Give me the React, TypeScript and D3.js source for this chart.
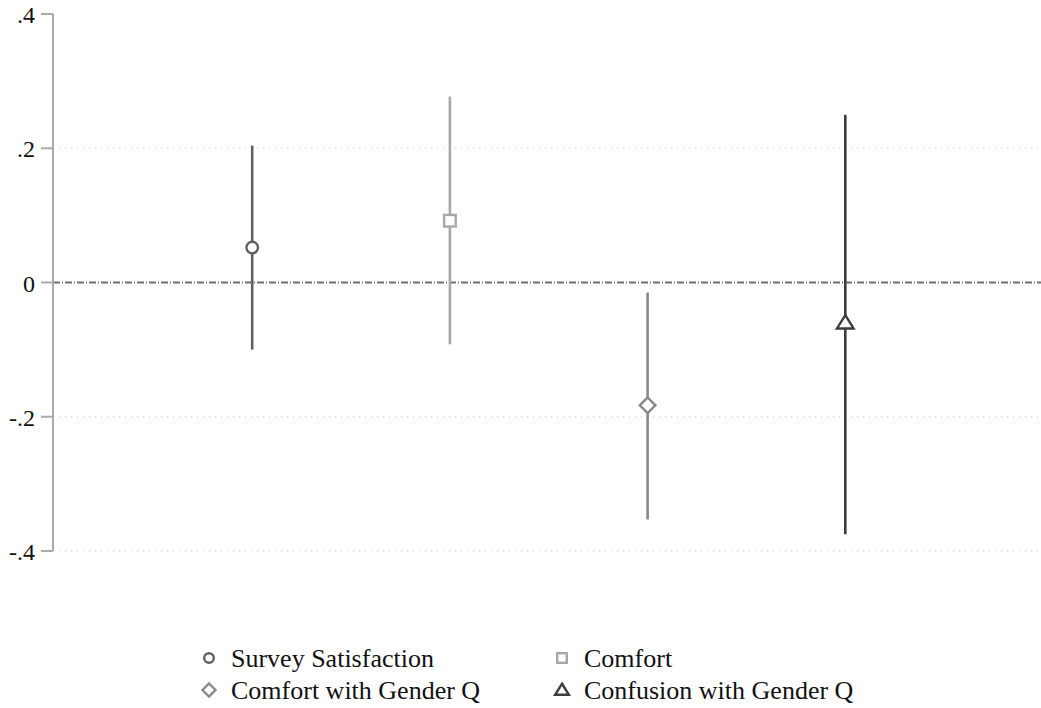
import React from "react";
import * as d3 from "d3";

const categories = ["Survey Satisfaction", "Comfort", "Comfort with Gender Q", "Confusion with Gender Q"];
const estimates = [0.052, 0.092, -0.183, -0.06];
const lower = [-0.1, -0.092, -0.353, -0.375];
const upper = [0.204, 0.277, -0.015, 0.25];
const yTicks = [-0.4, -0.2, 0, 0.2, 0.4];
const yTickLabels = ["-.4", "-.2", "0", ".2", ".4"];

const colors = ["#606060", "#a8a8a8", "#888888", "#3c3c3c"];
const shapes = ["circle", "square", "diamond", "triangle"];

const W = 1041, H = 708;
const left = 53, top = 14, bottom = 552;
const gridRight = 1040;

function Marker({ shape, x, y, color, s }: { shape: string; x: number; y: number; color: string; s: number }) {
  const sw = 2.4;
  if (shape === "circle") return <circle cx={x} cy={y} r={s} fill="white" stroke={color} strokeWidth={sw} />;
  if (shape === "square") return <rect x={x - s} y={y - s} width={2 * s} height={2 * s} fill="white" stroke={color} strokeWidth={sw} />;
  if (shape === "diamond") {
    const d = s * 1.35;
    return <path d={`M${x},${y - d}L${x + d},${y}L${x},${y + d}L${x - d},${y}Z`} fill="white" stroke={color} strokeWidth={sw} />;
  }
  const t = s * 1.3;
  return <path d={`M${x},${y - t}L${x + t * 1.1},${y + t * 0.75}L${x - t * 1.1},${y + t * 0.75}Z`} fill="white" stroke={color} strokeWidth={sw} strokeLinejoin="miter" />;
}

const fontStyle = { fontFamily: "Liberation Serif" };

export default function App() {
  const y = d3.scaleLinear().domain([-0.4, 0.4]).range([bottom - 1, top]);
  const x = d3.scaleLinear().domain([0, 5]).range([54.5, 1043]);
  const legendItems = [
    { i: 0, lx: 209, ly: 658 },
    { i: 1, lx: 562, ly: 658 },
    { i: 2, lx: 209, ly: 690 },
    { i: 3, lx: 562, ly: 690 },
  ];
  return (
    <svg width={W} height={H} style={{ position: "absolute", left: 0, top: 0, background: "white" }}>
      {yTicks.map((t, i) =>
        t !== 0 && t !== 0.4 ? (
          <line key={"g" + i} x1={left + 6} x2={gridRight} y1={y(t)} y2={y(t)} stroke="#c8c8c8" strokeWidth={1} strokeDasharray="1,5" />
        ) : null
      )}
      <line x1={left} x2={gridRight + 1} y1={y(0)} y2={y(0)} stroke="#707070" strokeWidth={1.9} strokeDasharray="7,2,1,2" />
      <line x1={left} x2={left} y1={y(0.4)} y2={y(-0.4)} stroke="#aaaaaa" strokeWidth={2} />
      {yTicks.map((t, i) => (
        <g key={"t" + i}>
          <line x1={left - 12} x2={left} y1={y(t)} y2={y(t)} stroke="#aaaaaa" strokeWidth={2} />
          <text x={35} y={y(t) + 9} textAnchor="end" fontSize={24} fill="#111" style={fontStyle}>
            {yTickLabels[i]}
          </text>
        </g>
      ))}
      {categories.map((c, i) => (
        <g key={c}>
          <line x1={x(i + 1)} x2={x(i + 1)} y1={y(upper[i])} y2={y(lower[i])} stroke={colors[i]} strokeWidth={2.6} />
          <Marker shape={shapes[i]} x={x(i + 1)} y={y(estimates[i])} color={colors[i]} s={5.8} />
        </g>
      ))}
      {legendItems.map(({ i, lx, ly }) => (
        <g key={"l" + i}>
          <Marker shape={shapes[i]} x={lx} y={ly} color={colors[i]} s={4.8} />
          <text x={lx + 22} y={ly + 9} fontSize={26} fill="#111" style={fontStyle}>
            {categories[i]}
          </text>
        </g>
      ))}
    </svg>
  );
}
